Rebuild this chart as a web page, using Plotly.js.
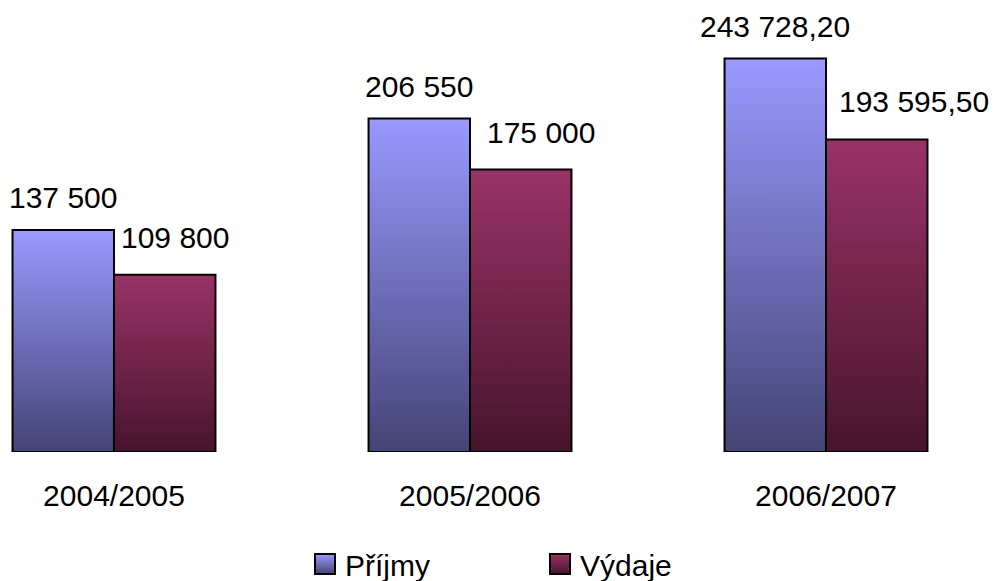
<!DOCTYPE html>
<html><head><meta charset="utf-8">
<script src="https://cdn.plot.ly/plotly-3.0.1.min.js"></script>
<style>body{margin:0;background:#fff}</style></head>
<body><div id="chart" style="width:997px;height:581px"></div>
<script>
const categories = ["2004/2005", "2005/2006", "2006/2007"];
const seriesNames = ["Příjmy", "Výdaje"];
const prijmy = [137500, 206550, 243728.20];
const vydaje = [109800, 175000, 193595.50];
const prijmyLabels = ["137 500", "206 550", "243 728,20"];
const vydajeLabels = ["109 800", "175 000", "193 595,50"];

const FONT = "Liberation Sans, Arial, sans-serif";
const FS = 30;
const bargap = 0.43;
const barW = (1 - bargap) / 2;
const gradStops = [["#9999FF", "#444476"], ["#993366", "#48142D"]];
const labelXShift = [[0, 0, 0], [10, 20, 37]];
const labelYShift = [14, 19];

const series = [prijmy, vydaje];
const labels = [prijmyLabels, vydajeLabels];

const data = series.map((vals, i) => ({
  type: "bar",
  name: seriesNames[i],
  x: categories,
  y: vals,
  marker: { color: gradStops[i][0], line: { color: "#000", width: 2 } },
  hoverinfo: "skip"
}));

const annotations = [];
series.forEach((vals, i) => {
  vals.forEach((v, j) => {
    annotations.push({
      x: j + (i - 0.5) * barW, y: v, xref: "x", yref: "y",
      text: labels[i][j], showarrow: false,
      xanchor: "center", yanchor: "bottom",
      xshift: labelXShift[i][j], yshift: labelYShift[i],
      font: { family: FONT, size: FS, color: "#000" }
    });
  });
});

const layout = {
  width: 997, height: 581,
  margin: { l: 0, r: 0, t: 0, b: 129 },
  paper_bgcolor: "#fff", plot_bgcolor: "#fff",
  barmode: "group", bargap: bargap, bargroupgap: 0,
  font: { family: FONT, size: FS, color: "#000" },
  xaxis: {
    type: "category", range: [-0.3202, 2.4803],
    showline: false, showgrid: false, zeroline: false,
    ticks: "outside", ticklen: 17, tickcolor: "rgba(0,0,0,0)",
    tickfont: { family: FONT, size: FS, color: "#000" }
  },
  yaxis: {
    range: [0, 280000], visible: false, showgrid: false, zeroline: false
  },
  showlegend: true,
  legend: {
    orientation: "h", xref: "container", yref: "container",
    x: 305 / 997, xanchor: "left", y: 1 - 564 / 581, yanchor: "middle",
    font: { family: FONT, size: FS, color: "#000" },
    entrywidth: 190, itemclick: false, itemdoubleclick: false,
    bgcolor: "rgba(0,0,0,0)"
  },
  annotations: annotations
};

function applyGrad(gd) {
  const svg = gd.querySelector("svg.main-svg");
  const NS = "http://www.w3.org/2000/svg";
  let defs = svg.querySelector("defs");
  if (!defs) { defs = document.createElementNS(NS, "defs"); svg.insertBefore(defs, svg.firstChild); }
  gradStops.forEach((st, i) => {
    if (document.getElementById("grad" + i)) return;
    const g = document.createElementNS(NS, "linearGradient");
    g.setAttribute("id", "grad" + i);
    g.setAttribute("x1", "0"); g.setAttribute("y1", "0");
    g.setAttribute("x2", "0"); g.setAttribute("y2", "1");
    st.forEach((c, k) => {
      const s = document.createElementNS(NS, "stop");
      s.setAttribute("offset", k === 0 ? "0" : "1");
      s.setAttribute("stop-color", c);
      g.appendChild(s);
    });
    defs.appendChild(g);
  });
  gd.querySelectorAll(".barlayer .trace").forEach((t, i) => {
    t.querySelectorAll("path").forEach(p => { p.style.fill = "url(#grad" + i + ")"; });
  });
  gd.querySelectorAll(".legend .traces").forEach((t, i) => {
    t.querySelectorAll(".legendpoints path").forEach(p => {
      p.setAttribute("d", "M10,10H-10V-10H10Z");
      p.style.fill = "url(#grad" + i + ")";
      p.style.stroke = "#000";
      p.style.strokeWidth = "2px";
    });
  });
}

const gd = document.getElementById("chart");
Plotly.newPlot(gd, data, layout, { staticPlot: true, displayModeBar: false }).then(() => {
  applyGrad(gd);
  gd.on && gd.on("plotly_afterplot", () => applyGrad(gd));
});
</script></body></html>
